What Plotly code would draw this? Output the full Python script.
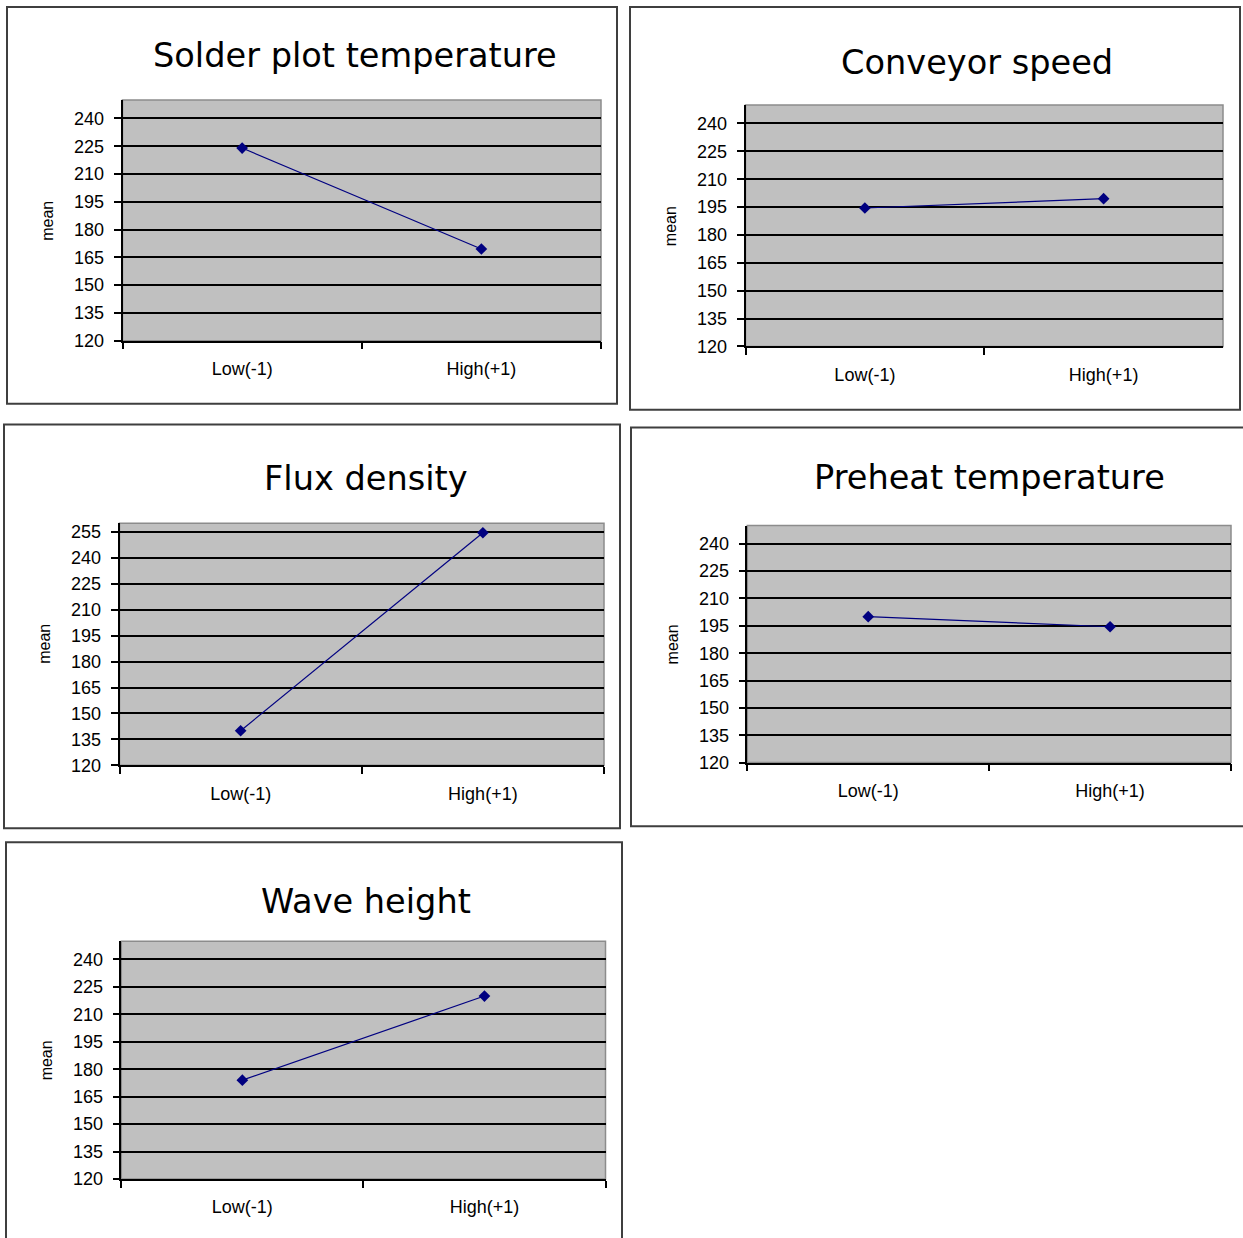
import plotly.graph_objects as go

# Main-effect means for each wave-soldering factor
factors = ["Solder plot temperature", "Conveyor speed", "Flux density",
           "Preheat temperature", "Wave height"]
levels = ["Low(-1)", "High(+1)"]
low_means = [224, 194.5, 140, 200, 174]
high_means = [169.5, 199.5, 254.5, 194.5, 220]
y_min = [120, 120, 120, 120, 120]
y_max = [250, 250, 260, 250, 250]
y_step = 15

W, H = 1243, 1238
V_SCALE = 0.992  # vertical factor between layout pixels and the displayed page

# Pixel layout of each chart: plot area (l, t, r, b), outer frame, title centre
plot_boxes = [(122.5, 99, 601, 340), (745.5, 104, 1223, 345.7),
              (119.5, 522.7, 604, 765), (747.3, 525, 1231, 762.3),
              (121.3, 941, 605.5, 1179)]
frames = [(7, 6, 617, 403), (630, 6, 1240, 409), (4, 424, 620, 828),
          (631, 427, 1252, 826), (6, 842, 622, 1252)]
title_pos = [(355, 55), (977, 62), (366, 478), (989, 477), (366, 901)]

NAVY = "#000080"
TICK_FONT = dict(family="Liberation Sans, Arial, sans-serif", size=18, color="#000000")
TITLE_FONT = dict(family="DejaVu Sans, Verdana, sans-serif", size=33.6, color="#000000")

fig = go.Figure()
shapes, annotations = [], []


def px(x):
    return x / W


def py(y):
    return 1 - (y / V_SCALE) / H


for i, name in enumerate(factors):
    n = "" if i == 0 else str(i + 1)
    l, t, r, b = plot_boxes[i]
    fig.add_trace(go.Scatter(
        x=levels, y=[low_means[i], high_means[i]],
        xaxis="x" + n, yaxis="y" + n,
        mode="lines+markers",
        line=dict(color=NAVY, width=1.2),
        marker=dict(symbol="diamond", size=9, color=NAVY),
        showlegend=False, hoverinfo="x+y",
    ))
    fig.update_layout(**{
        "xaxis" + n: dict(
            domain=[px(l), px(r)], anchor="y" + n,
            type="category", range=[-0.5, 1.5], tickson="boundaries",
            showgrid=False, zeroline=False,
            showline=True, linecolor="#000000", linewidth=1.5,
            ticks="outside", ticklen=7, tickwidth=1.5, tickcolor="#000000",
            tickfont=TICK_FONT, ticklabelstandoff=11, fixedrange=True,
        ),
        "yaxis" + n: dict(
            domain=[py(b), py(t)], anchor="x" + n,
            range=[y_min[i], y_max[i]], tick0=y_min[i], dtick=y_step,
            showgrid=True, gridcolor="#000000", gridwidth=1.5, zeroline=False,
            showline=True, linecolor="#000000", linewidth=1.5,
            ticks="outside", ticklen=7, tickwidth=1.5, tickcolor="#000000",
            tickfont=TICK_FONT, ticklabelstandoff=6, fixedrange=True,
        ),
    })
    # grey plot-area fill with a thin grey border
    shapes.append(dict(type="rect", xref="x" + n + " domain", yref="y" + n + " domain",
                       x0=0, x1=1, y0=0, y1=1, fillcolor="#C0C0C0",
                       line=dict(color="#8C8C8C", width=1.5), layer="below"))
    # outer chart frame
    fl, ft, fr, fb = frames[i]
    shapes.append(dict(type="rect", xref="paper", yref="paper",
                       x0=px(fl), x1=px(fr), y0=py(fb), y1=py(ft),
                       line=dict(color="#3F3F3F", width=2), fillcolor="rgba(0,0,0,0)"))
    tx, ty = title_pos[i]
    annotations.append(dict(text=name, xref="paper", yref="paper", x=px(tx), y=py(ty),
                            xanchor="center", yanchor="middle", showarrow=False,
                            font=TITLE_FONT))
    annotations.append(dict(text="mean", xref="paper", yref="paper",
                            x=px(l - 75), y=py((t + b) / 2), textangle=-90,
                            xanchor="center", yanchor="middle", showarrow=False,
                            font=dict(family="Liberation Sans, Arial, sans-serif",
                                      size=16, color="#000000")))

fig.update_layout(
    width=W, height=H, autosize=False, margin=dict(l=0, r=0, t=0, b=0, pad=0),
    paper_bgcolor="#FFFFFF", plot_bgcolor="rgba(0,0,0,0)",
    shapes=shapes, annotations=annotations,
)

fig.write_html("out.html")
